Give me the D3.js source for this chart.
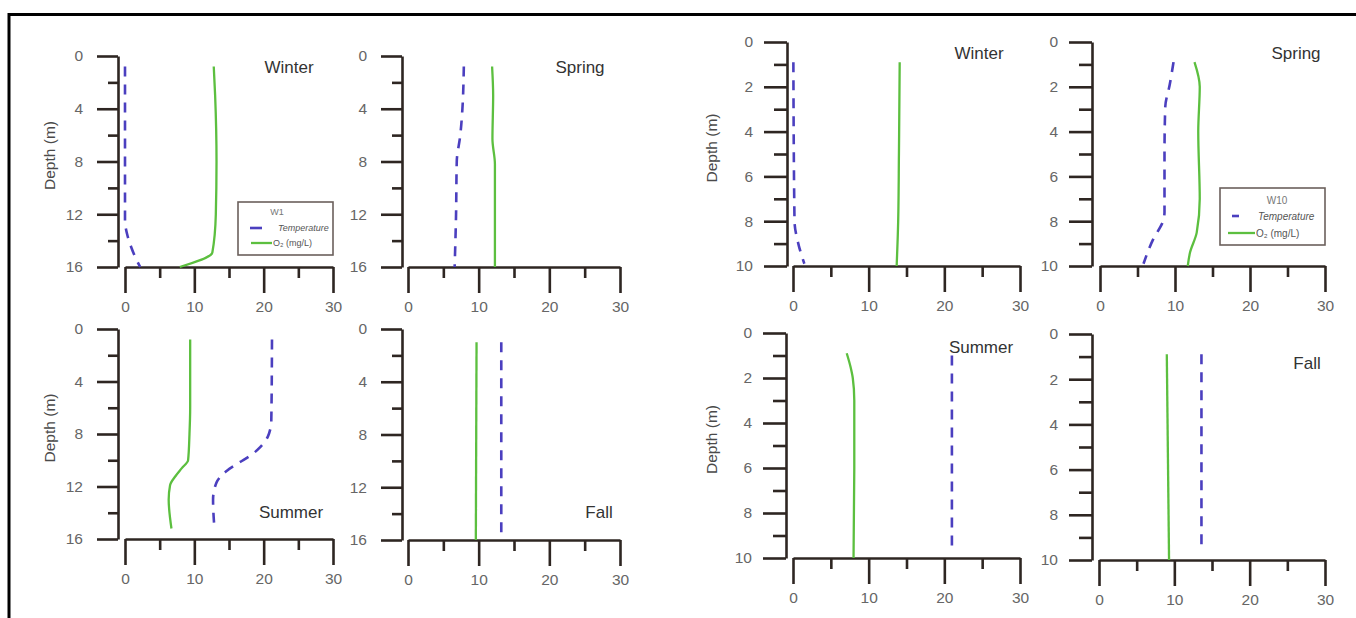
<!DOCTYPE html>
<html>
<head>
<meta charset="utf-8">
<script src="https://cdn.jsdelivr.net/npm/d3@7"></script>
<style>
  html, body { margin: 0; padding: 0; background: #fff; }
  svg { display: block; font-family: "Liberation Sans", Arial, sans-serif; }
</style>
</head>
<body>
<svg id="chart" width="1356" height="618"></svg>
<script>
// ---------------- DATA ----------------
const seasons = ["Winter", "Spring", "Summer", "Fall"];
const stations = ["W1", "W10"];
const xTickValues = [0, 10, 20, 30];
const xMinorTicks = [5, 15, 25];
const w1DepthTicks = [0, 4, 8, 12, 16];
const w1DepthMinor = [2, 6, 10, 14];
const w10DepthTicks = [0, 2, 4, 6, 8, 10];
const w10DepthMinor = [1, 3, 5, 7, 9];
const legendLabels = ["Temperature", "O₂ (mg/L)"];

// [depth (m), value]
const w1WinterTemp = [[0.8,0],[12.5,0],[13.5,0.3],[14.5,0.9],[15.5,1.7],[16,2.2]];
const w1WinterO2   = [[0.8,12.8],[3,13.0],[8,13.2],[12,13.1],[14.9,12.6],[16,7.9]];
const w1SpringTemp = [[0.8,7.9],[4,7.7],[6,7.4],[8,6.9],[12,6.8],[16,6.6]];
const w1SpringO2   = [[0.8,11.9],[3,12.05],[6.3,11.95],[8.2,12.3],[12,12.3],[16,12.3]];
const w1SummerTemp = [[0.8,21.2],[7,21.1],[8.2,20.6],[9,19.5],[9.6,18.2],[10.2,16.4],[10.8,14.7],[11.7,13.2],[13,12.7],[15.2,12.9]];
const w1SummerO2   = [[0.8,9.4],[6,9.4],[8,9.3],[10,9.1],[10.6,8.2],[11.2,7.3],[11.9,6.5],[13,6.3],[15.2,6.7]];
const w1FallTemp   = [[1,13.2],[16,13.2]];
const w1FallO2     = [[1,9.7],[16,9.6]];

const w10WinterTemp = [[0.9,0.05],[8,0.2],[9,0.7],[9.9,1.5]];
const w10WinterO2   = [[0.9,14.1],[5,14.0],[8,13.9],[10,13.7]];
const w10SpringTemp = [[0.9,9.8],[1.9,9.3],[2.9,8.7],[5,8.6],[7.6,8.6],[8,8.4],[8.8,7.1],[9.9,5.8]];
const w10SpringO2   = [[0.9,12.6],[2,13.3],[4,13.1],[7,13.3],[8.5,12.9],[9.4,12.0],[10,11.7]];
const w10SummerTemp = [[1,21.0],[9.5,21.0]];
const w10SummerO2   = [[0.9,7.1],[1.5,7.6],[2,7.9],[3,8.1],[6,8.1],[10,8.0]];
const w10FallTemp   = [[0.9,13.6],[9.5,13.6]];
const w10FallO2     = [[0.9,9.0],[10,9.3]];

// ---------------- LAYOUT ----------------
const AXIS = "#2e2622", TICKTXT = "#666", TITLE = "#333";
const TEMP_C = "#4b3fbf", O2_C = "#5cbf3f";

const panels = [
  {st:0, s:0, temp:w1WinterTemp, o2:w1WinterO2, ax:118, xr:[125,333], yr:[56,267], tt:[289,67]},
  {st:0, s:1, temp:w1SpringTemp, o2:w1SpringO2, ax:402, xr:[408,620], yr:[56,267], tt:[580,67]},
  {st:0, s:2, temp:w1SummerTemp, o2:w1SummerO2, ax:118, xr:[125,333], yr:[329,539], tt:[291,512]},
  {st:0, s:3, temp:w1FallTemp,   o2:w1FallO2,   ax:402, xr:[408,620], yr:[329,540], tt:[599,512]},
  {st:1, s:0, temp:w10WinterTemp, o2:w10WinterO2, ax:787, xr:[793,1020], yr:[42,266], tt:[979,53]},
  {st:1, s:1, temp:w10SpringTemp, o2:w10SpringO2, ax:1092, xr:[1100,1325], yr:[42,266], tt:[1296,53]},
  {st:1, s:2, temp:w10SummerTemp, o2:w10SummerO2, ax:786, xr:[793,1020], yr:[333,558], tt:[981,347]},
  {st:1, s:3, temp:w10FallTemp,   o2:w10FallO2,   ax:1092, xr:[1099,1325], yr:[334,560], tt:[1307,363]}
];
const stationCfg = [
  {max:16, major:w1DepthTicks, minor:w1DepthMinor, majLen:21, minLen:10, pad:14, depthX:50},
  {max:10, major:w10DepthTicks, minor:w10DepthMinor, majLen:23, minLen:13, pad:11, depthX:712}
];

const svg = d3.select("#chart");

// frame
svg.append("path").attr("d","M9,618V14.5H1356").attr("fill","none")
  .attr("stroke","#000").attr("stroke-width",3);

panels.forEach(p => {
  const cfg = stationCfg[p.st];
  const x = d3.scaleLinear().domain([0,30]).range(p.xr);
  const y = d3.scaleLinear().domain([0,cfg.max]).range(p.yr);
  const g = svg.append("g");

  // Y axis
  const yAxisMajor = d3.axisLeft(y).tickValues(cfg.major).tickSize(cfg.majLen)
    .tickSizeOuter(0).tickPadding(cfg.pad).tickFormat(d3.format("d"));
  const ya = g.append("g").attr("transform",`translate(${p.ax},0)`).call(yAxisMajor);
  const yAxisMinor = d3.axisLeft(y).tickValues(cfg.minor).tickSize(cfg.minLen)
    .tickSizeOuter(0).tickFormat("");
  const yb = g.append("g").attr("transform",`translate(${p.ax},0)`).call(yAxisMinor);
  yb.select(".domain").remove();

  // X axis
  const xAxisMajor = d3.axisBottom(x).tickValues(xTickValues).tickSize(26)
    .tickSizeOuter(0).tickPadding(8).tickFormat(d3.format("d"));
  const xa = g.append("g").attr("transform",`translate(0,${p.yr[1]})`).call(xAxisMajor);
  const xAxisMinor = d3.axisBottom(x).tickValues(xMinorTicks).tickSize(11)
    .tickSizeOuter(0).tickFormat("");
  const xb = g.append("g").attr("transform",`translate(0,${p.yr[1]})`).call(xAxisMinor);
  xb.select(".domain").remove();

  [ya,yb,xa,xb].forEach(a => {
    a.selectAll("path,line").attr("stroke",AXIS).attr("stroke-width",2.6);
    a.selectAll("text").attr("fill",TICKTXT).attr("font-size",15.5)
      .attr("font-family",'"Liberation Sans", Arial, sans-serif');
  });

  // depth label (left column of each station only)
  if (p.s === 0 || p.s === 2) {
    const cy = (p.yr[0] + p.yr[1]) / 2 - 6;
    svg.append("text").attr("transform",`translate(${cfg.depthX},${cy}) rotate(-90)`)
      .attr("text-anchor","middle").attr("dy","0.35em")
      .attr("font-size",15.5).attr("fill","#4a4a4a").text("Depth (m)");
  }

  // lines
  const line = d3.line().x(d => x(d[1])).y(d => y(d[0])).curve(d3.curveMonotoneY);
  g.append("path").datum(p.o2).attr("d",line).attr("fill","none")
    .attr("stroke",O2_C).attr("stroke-width",2.3);
  g.append("path").datum(p.temp).attr("d",line).attr("fill","none")
    .attr("stroke",TEMP_C).attr("stroke-width",2.6).attr("stroke-dasharray","10,8");

  // title
  svg.append("text").attr("x",p.tt[0]).attr("y",p.tt[1]).attr("dy","0.35em")
    .attr("text-anchor","middle").attr("font-size",17).attr("fill",TITLE)
    .text(seasons[p.s]);
});

// legends
const legends = [
  {st:0, box:[238,202,95,53], title:[277,212], rows:[228,243], dash:[250,262], green:[251,272], tx:[278,273], fs:9},
  {st:1, box:[1220,188,105,57], title:[1277,200], rows:[216,233], dash:[1232,1239], green:[1228,1255], tx:[1258,1256], fs:10}
];
legends.forEach(L => {
  const g = svg.append("g");
  g.append("rect").attr("x",L.box[0]).attr("y",L.box[1]).attr("width",L.box[2]).attr("height",L.box[3])
    .attr("fill","#fff").attr("stroke","#6b605c").attr("stroke-width",1.6);
  g.append("text").attr("x",L.title[0]).attr("y",L.title[1]).attr("dy","0.35em")
    .attr("text-anchor","middle").attr("font-size",L.fs).attr("fill","#777").text(stations[L.st]);
  g.append("line").attr("x1",L.dash[0]).attr("x2",L.dash[1]).attr("y1",L.rows[0]).attr("y2",L.rows[0])
    .attr("stroke",TEMP_C).attr("stroke-width",2.6);
  g.append("line").attr("x1",L.green[0]).attr("x2",L.green[1]).attr("y1",L.rows[1]).attr("y2",L.rows[1])
    .attr("stroke",O2_C).attr("stroke-width",2.3);
  g.append("text").attr("x",L.tx[0]).attr("y",L.rows[0]).attr("dy","0.35em")
    .attr("font-size",L.fs).attr("font-style","italic").attr("fill","#555").text(legendLabels[0]);
  g.append("text").attr("x",L.tx[1]).attr("y",L.rows[1]).attr("dy","0.35em")
    .attr("font-size",L.fs).attr("fill","#555").text(legendLabels[1]);
});
</script>
</body>
</html>
